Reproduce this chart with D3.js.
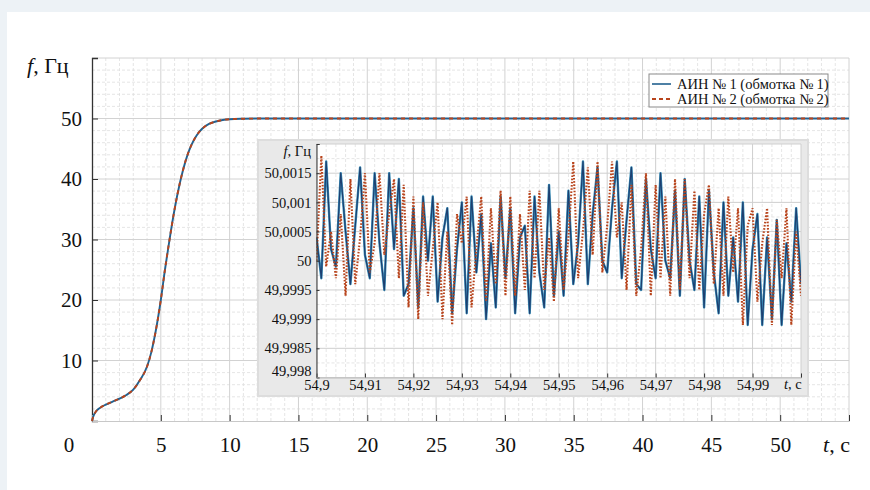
<!DOCTYPE html>
<html>
<head>
<meta charset="utf-8">
<script src="https://cdn.jsdelivr.net/npm/d3@7"></script>
<style>
  html, body { margin: 0; padding: 0; background: #edf2f6; }
  svg { display: block; }
  text { font-family: "Liberation Serif", "Times New Roman", serif; fill: #111; }
</style>
</head>
<body>
<svg id="chart" width="870" height="490"></svg>
<script>
// main curve: frequency run-up, t in s, f in Hz
var mainT = [0, 0.1, 0.3, 0.6, 1.0, 1.5, 2.0, 2.5, 3.0, 3.5, 4.0, 4.3, 4.6, 5.0, 5.3, 5.6, 6.0, 6.4, 6.8, 7.2, 7.6, 8.0, 8.5, 9.0, 9.5, 10, 11, 12, 13, 15, 20, 30, 40, 50, 55];
var mainF = [0, 0.8, 1.6, 2.2, 2.7, 3.2, 3.7, 4.3, 5.2, 6.8, 9.0, 11.3, 14.5, 20, 25, 29.5, 35, 39.5, 43, 45.5, 47.2, 48.3, 49.1, 49.5, 49.75, 49.88, 49.96, 49.99, 50, 50, 50, 50, 50, 50, 50];

var mainXTicks = [5, 10, 15, 20, 25, 30, 35, 40, 45, 50, 55];
var mainYTicks = [10, 20, 30, 40, 50, 60];

// inset: samples every 1 ms from 54.9 s, deviation from 50 Hz in units of 1e-4 Hz
var insetStart = 54.9, insetStep = 0.001;
var blueDev = [4, -3, 17, 2, -1, 15, 5, -4, 6, 16, 1, -3, 15, 3, -5, 15, 2, 14, -6, -4,
  9, -8, 11, 0, 11, -7, 4, 9, -9, 2, 10, -9, 11, -2, 8, -10, 3, -8, 11, -3,
  9, -9, 4, 6, -9, 11, -2, -8, 13, -6, 5, -6, 12, -4, 3, 17, -4, 8, 16, 0,
  -2, 9, 17, -3, 7, 16, -4, -5, 14, 2, -3, 15, 0, -3, 12, -6, 14, 0, -5, 11,
  -8, 12, -2, -9, 10, -6, 4, -7, 10, -11, 2, 8, -11, 4, -10, 7, -11, 3, -7, 9, -4];
var redDev = [0, 18, -1, 5, -3, 8, -6, 14, -4, 4, 15, -2, 3, 15, 1, 8, 14, -3, 13, -8,
  11, -10, 10, -6, 2, 10, -10, 5, -11, 8, 3, 11, -8, 2, 11, -7, 9, -4, 12, -6,
  11, -6, 8, -5, 12, -3, 12, -5, 4, -7, 9, -5, 4, 17, -3, 5, 16, 1, 17, -2,
  6, 17, 4, 10, -5, 13, -6, 2, 15, -6, 13, -3, 11, -6, 14, -5, 14, -3, 12, -5,
  8, 13, -4, 9, -6, 11, -2, 9, -11, 6, 9, -7, 3, 9, -11, 7, -3, 9, -11, 5, -6];

var insetXTicks = [54.9, 54.91, 54.92, 54.93, 54.94, 54.95, 54.96, 54.97, 54.98, 54.99, 55.0];
var insetXLabels = ["54,9", "54,91", "54,92", "54,93", "54,94", "54,95", "54,96", "54,97", "54,98", "54,99", ""];
var insetYTicks = [49.998, 49.9985, 49.999, 49.9995, 50, 50.0005, 50.001, 50.0015, 50.002];
var insetYLabels = ["49,998", "49,9985", "49,999", "49,9995", "50", "50,0005", "50,001", "50,0015", ""];

var seriesNames = ["АИН № 1 (обмотка № 1)", "АИН № 2 (обмотка № 2)"];
var blue = "#22618f", red = "#b8441c";

var svg = d3.select("#chart");

// paper sheet
svg.append("rect").attr("x", 0).attr("y", 0).attr("width", 870).attr("height", 490).attr("fill", "#edf2f6");
svg.append("rect").attr("x", 7).attr("y", 12).attr("width", 870).attr("height", 490).attr("fill", "#fff");

// scales
var x = d3.scaleLinear().domain([0, 55]).range([92, 849]);
var y = d3.scaleLinear().domain([0, 60]).range([421, 58]);

// grid
var grid = svg.append("g");
grid.selectAll(".vmin").data(d3.range(1, 56).filter(function(d) { return d % 5 !== 0; }))
  .enter().append("line")
  .attr("x1", d => x(d)).attr("x2", d => x(d)).attr("y1", y(60)).attr("y2", y(0))
  .attr("stroke", "#dedede").attr("stroke-dasharray", "3,2").attr("stroke-width", 0.8);
grid.selectAll(".hmin").data(d3.range(2, 61, 2).filter(function(d) { return d % 10 !== 0; }))
  .enter().append("line")
  .attr("x1", x(0)).attr("x2", x(55)).attr("y1", d => y(d)).attr("y2", d => y(d))
  .attr("stroke", "#dedede").attr("stroke-dasharray", "3,2").attr("stroke-width", 0.8);
grid.selectAll(".vmaj").data(mainXTicks)
  .enter().append("line")
  .attr("x1", d => x(d)).attr("x2", d => x(d)).attr("y1", y(60)).attr("y2", y(0))
  .attr("stroke", "#d2d2d2").attr("stroke-width", 1);
grid.selectAll(".hmaj").data(mainYTicks)
  .enter().append("line")
  .attr("x1", x(0)).attr("x2", x(55)).attr("y1", d => y(d)).attr("y2", d => y(d))
  .attr("stroke", "#d2d2d2").attr("stroke-width", 1);

// axes
var yAxis = svg.append("g")
  .attr("transform", "translate(" + x(0) + ",0)")
  .call(d3.axisLeft(y).tickValues(mainYTicks).tickSize(-6).tickPadding(10)
    .tickFormat(function(d) { return d === 60 ? "" : d; }));
yAxis.select(".domain").attr("stroke", "#333").attr("stroke-width", 1.3);
yAxis.selectAll(".tick line").attr("stroke", "#333");
yAxis.selectAll("text").attr("font-size", 21).attr("font-family", "Liberation Serif, serif");

var xAxis = svg.append("g")
  .attr("transform", "translate(0," + y(0) + ")")
  .call(d3.axisBottom(x).tickValues(mainXTicks).tickSize(-6).tickPadding(16)
    .tickFormat(function(d) { return d === 55 ? "" : d; }));
xAxis.select(".domain").attr("stroke", "#c8c8c8");
xAxis.selectAll(".tick line").attr("stroke", "#333");
xAxis.selectAll("text").attr("font-size", 21).attr("font-family", "Liberation Serif, serif");

svg.append("text").attr("x", 69).attr("y", 452).attr("text-anchor", "middle")
  .attr("font-size", 21).text("0");

var fLabel = svg.append("text").attr("x", 27).attr("y", 73).attr("font-size", 22);
fLabel.append("tspan").attr("font-style", "italic").text("f");
fLabel.append("tspan").text(", Гц");

var tLabel = svg.append("text").attr("x", 823).attr("y", 452).attr("font-size", 22);
tLabel.append("tspan").attr("font-style", "italic").text("t");
tLabel.append("tspan").text(", с");

// main curve
var mainData = mainT.map(function(t, i) { return [t, mainF[i]]; });
var mainLine = d3.line().x(d => x(d[0])).y(d => y(d[1])).curve(d3.curveMonotoneX);
svg.append("path").datum(mainData).attr("d", mainLine)
  .attr("fill", "none").attr("stroke", blue).attr("stroke-width", 1.9);
svg.append("path").datum(mainData).attr("d", mainLine)
  .attr("fill", "none").attr("stroke", red).attr("stroke-width", 1.9).attr("stroke-dasharray", "4,4");

// legend
var lg = svg.append("g");
lg.append("rect").attr("x", 649).attr("y", 74).attr("width", 179).attr("height", 33)
  .attr("fill", "#fff").attr("stroke", "#8a8a8a");
lg.append("line").attr("x1", 652).attr("x2", 671).attr("y1", 84).attr("y2", 84)
  .attr("stroke", blue).attr("stroke-width", 1.6);
lg.append("line").attr("x1", 652).attr("x2", 671).attr("y1", 99).attr("y2", 99)
  .attr("stroke", red).attr("stroke-width", 1.8).attr("stroke-dasharray", "4,3");
lg.selectAll(".lt").data(seriesNames).enter().append("text")
  .attr("x", 677).attr("y", (d, i) => 89 + i * 15)
  .attr("font-size", 14.5).text(d => d);

// ---- inset ----
var ix = d3.scaleLinear().domain([54.9, 55.0]).range([316.5, 801]);
var iy = d3.scaleLinear().domain([49.998, 50.002]).range([377.5, 144]);

var inset = svg.append("g");
inset.append("rect").attr("x", 258).attr("y", 140).attr("width", 550).attr("height", 256)
  .attr("fill", "#e9e9e9").attr("stroke", "#dddddd").attr("stroke-width", 2);
inset.append("rect").attr("x", ix(54.9)).attr("y", iy(50.002))
  .attr("width", ix(55.0) - ix(54.9)).attr("height", iy(49.998) - iy(50.002)).attr("fill", "#fff");

var iminX = d3.range(0, 51).map(function(k) { return 54.9 + k * 0.002; }).filter(function(d, k) { return k % 5 !== 0; });
inset.selectAll(".ivmin").data(iminX).enter().append("line")
  .attr("x1", d => ix(d)).attr("x2", d => ix(d)).attr("y1", iy(50.002)).attr("y2", iy(49.998))
  .attr("stroke", "#e0e0e0").attr("stroke-dasharray", "3,2").attr("stroke-width", 0.8);
inset.selectAll(".ihmin").data(d3.range(0, 8).map(function(k) { return 49.99825 + k * 0.0005; }))
  .enter().append("line")
  .attr("x1", ix(54.9)).attr("x2", ix(55.0)).attr("y1", d => iy(d)).attr("y2", d => iy(d))
  .attr("stroke", "#dedede").attr("stroke-dasharray", "3,2").attr("stroke-width", 0.8);
inset.selectAll(".ivmaj").data(insetXTicks).enter().append("line")
  .attr("x1", d => ix(d)).attr("x2", d => ix(d)).attr("y1", iy(50.002)).attr("y2", iy(49.998))
  .attr("stroke", "#cfcfcf");
inset.selectAll(".ihmaj").data(insetYTicks).enter().append("line")
  .attr("x1", ix(54.9)).attr("x2", ix(55.0)).attr("y1", d => iy(d)).attr("y2", d => iy(d))
  .attr("stroke", "#cfcfcf");

svg.append("clipPath").attr("id", "iclip").append("rect")
  .attr("x", ix(54.9)).attr("y", iy(50.002)).attr("width", ix(55.0) - ix(54.9)).attr("height", iy(49.998) - iy(50.002));

var toPts = function(dev) {
  return dev.map(function(v, i) { return [insetStart + i * insetStep, 50 + v / 10000]; });
};
var iline = d3.line().x(d => ix(d[0])).y(d => iy(d[1]));
var lines = inset.append("g").attr("clip-path", "url(#iclip)");
lines.append("path").datum(toPts(blueDev)).attr("d", iline)
  .attr("fill", "none").attr("stroke", "#3b8fb8").attr("stroke-width", 2.4).attr("stroke-linejoin", "round");
lines.append("path").datum(toPts(blueDev)).attr("d", iline)
  .attr("fill", "none").attr("stroke", "#1d3f70").attr("stroke-width", 1.2).attr("stroke-linejoin", "round");
lines.append("path").datum(toPts(redDev)).attr("d", iline)
  .attr("fill", "none").attr("stroke", red).attr("stroke-width", 2.1).attr("stroke-dasharray", "1.6,1.6");

var iyAxis = inset.append("g").attr("transform", "translate(" + ix(54.9) + ",0)")
  .call(d3.axisLeft(iy).tickValues(insetYTicks).tickSize(-3).tickPadding(5)
    .tickFormat(function(d, i) { return insetYLabels[i]; }));
iyAxis.select(".domain").attr("stroke", "#333");
iyAxis.selectAll(".tick line").attr("stroke", "#333");
iyAxis.selectAll("text").attr("font-size", 14.5).attr("font-family", "Liberation Serif, serif");
iyAxis.selectAll(".tick").filter(d => d === 49.998).select("text").attr("dy", "-0.15em");

var ixAxis = inset.append("g").attr("transform", "translate(0," + iy(49.998) + ")")
  .call(d3.axisBottom(ix).tickValues(insetXTicks).tickSize(-4).tickPadding(2)
    .tickFormat(function(d, i) { return insetXLabels[i]; }));
ixAxis.select(".domain").attr("stroke", "#bbb");
ixAxis.selectAll(".tick line").attr("stroke", "#333");
ixAxis.selectAll("text").attr("font-size", 14.5).attr("font-family", "Liberation Serif, serif");

var ifLabel = inset.append("text").attr("x", 311).attr("y", 156).attr("text-anchor", "end").attr("font-size", 14.5);
ifLabel.append("tspan").attr("font-style", "italic").text("f");
ifLabel.append("tspan").text(", Гц");
var itLabel = inset.append("text").attr("x", 784).attr("y", 389).attr("font-size", 14.5);
itLabel.append("tspan").attr("font-style", "italic").text("t");
itLabel.append("tspan").text(", с");
</script>
</body>
</html>
